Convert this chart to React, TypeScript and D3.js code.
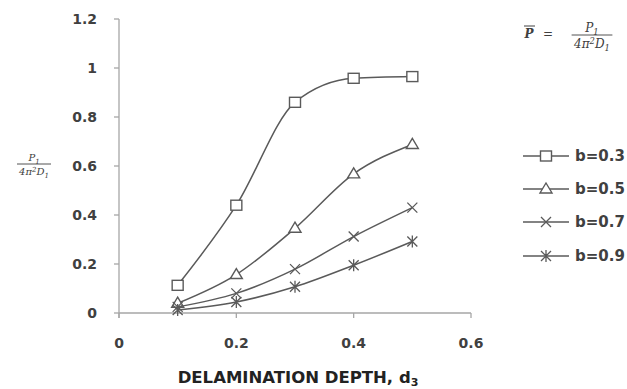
import * as d3 from "d3";

const WIDTH = 627;
const HEIGHT = 389;

const depths = [0.1, 0.2, 0.3, 0.4, 0.5];
const b03 = [0.113, 0.44, 0.86, 0.958, 0.965];
const b05 = [0.04, 0.157, 0.346, 0.568, 0.688];
const b07 = [0.025, 0.08, 0.179, 0.312, 0.43];
const b09 = [0.012, 0.045, 0.107, 0.195, 0.292];
const seriesNames = ["b=0.3", "b=0.5", "b=0.7", "b=0.9"];
const markerTypes = ["square", "triangle", "cross", "star"];
const xTicks = [0, 0.2, 0.4, 0.6];
const yTicks = [0, 0.2, 0.4, 0.6, 0.8, 1, 1.2];

const LINE = "#5a5a5a";
const AXIS = "#a6a6a6";
const TEXT = "#404040";
const FONT = "'DejaVu Sans', sans-serif";

function Marker({ type, x, y }: { type: string; x: number; y: number }) {
  const s = 5;
  if (type === "square")
    return <rect x={x - s - 0.5} y={y - s} width={2 * s + 1} height={2 * s} fill="#fff" stroke={LINE} strokeWidth={1.4} />;
  if (type === "triangle") {
    const p = [[x, y - s - 1], [x + s + 1, y + s - 1], [x - s - 1, y + s - 1]];
    return <polygon points={p.map((q) => q.join(",")).join(" ")} fill="#fff" stroke={LINE} strokeWidth={1.4} />;
  }
  const cross = `M${x - s},${y - s}L${x + s},${y + s}M${x - s},${y + s}L${x + s},${y - s}`;
  if (type === "cross") return <path d={cross} stroke={LINE} strokeWidth={1.3} fill="none" />;
  return <path d={cross + `M${x},${y - s - 1}L${x},${y + s + 1}`} stroke={LINE} strokeWidth={1.3} fill="none" />;
}

function Fraction({ x, y, size }: { x: number; y: number; size: number }) {
  // P1 / (4 pi^2 D1), centred at x, fraction bar at y
  const w = size * 3.4;
  return (
    <g fontFamily="'DejaVu Serif', serif" fontStyle="italic" fill={TEXT} textAnchor="middle">
      <text x={x} y={y - 3} fontSize={size}>
        P<tspan fontSize={size * 0.7} dy={size * 0.25}>1</tspan>
      </text>
      <line x1={x - w / 2} x2={x + w / 2} y1={y} y2={y} stroke={TEXT} strokeWidth={0.9} />
      <text x={x} y={y + size + 1} fontSize={size}>
        4π<tspan fontSize={size * 0.7} dy={-size * 0.35}>2</tspan>
        <tspan dy={size * 0.35}>D</tspan>
        <tspan fontSize={size * 0.7} dy={size * 0.25}>1</tspan>
      </text>
    </g>
  );
}

export default function App() {
  const x = d3.scaleLinear().domain([0, 0.6]).range([119, 471]);
  const y = d3.scaleLinear().domain([0, 1.2]).range([313, 19]);
  const series = [b03, b05, b07, b09];

  const line = d3
    .line<number>()
    .x((_, i) => x(depths[i]))
    .y((d) => y(d))
    .curve(d3.curveMonotoneX);

  const legendY = [156, 189, 222, 256];

  return (
    <svg width={WIDTH} height={HEIGHT} style={{ position: "absolute", left: 0, top: 0, background: "#fff" }}>
      {/* axes */}
      <line x1={x(0)} x2={x(0)} y1={y(1.2)} y2={y(0) + 5} stroke={AXIS} strokeWidth={1.3} />
      <line x1={x(0)} x2={x(0.6)} y1={y(0)} y2={y(0)} stroke={AXIS} strokeWidth={1.3} />
      {yTicks.map((t) => (
        <g key={"y" + t}>
          <line x1={x(0) - 5} x2={x(0)} y1={y(t)} y2={y(t)} stroke={AXIS} strokeWidth={1.3} />
          <text x={97} y={y(t)} dy="0.36em" textAnchor="end" fontFamily={FONT} fontWeight="bold" fontSize={14} fill={TEXT}>
            {d3.format("~g")(t)}
          </text>
        </g>
      ))}
      {xTicks.map((t) => (
        <g key={"x" + t}>
          <line x1={x(t)} x2={x(t)} y1={y(0)} y2={y(0) + 5} stroke={AXIS} strokeWidth={1.3} />
          <text x={x(t)} y={343} dy="0.36em" textAnchor="middle" fontFamily={FONT} fontWeight="bold" fontSize={14} fill={TEXT}>
            {d3.format("~g")(t)}
          </text>
        </g>
      ))}

      {/* series */}
      {series.map((s, k) => (
        <g key={seriesNames[k]}>
          <path d={line(s) || ""} fill="none" stroke={LINE} strokeWidth={1.5} />
          {s.map((v, i) => (
            <Marker key={i} type={markerTypes[k]} x={x(depths[i])} y={y(v)} />
          ))}
        </g>
      ))}

      {/* legend */}
      {seriesNames.map((n, k) => (
        <g key={"lg" + n}>
          <line x1={523} x2={569} y1={legendY[k]} y2={legendY[k]} stroke={LINE} strokeWidth={1.5} />
          <Marker type={markerTypes[k]} x={546} y={legendY[k]} />
          <text x={575} y={legendY[k]} dy="0.36em" fontFamily={FONT} fontWeight="bold" fontSize={15} fill={TEXT}>
            {n}
          </text>
        </g>
      ))}

      {/* y label */}
      <Fraction x={34} y={164} size={10} />

      {/* formula top right */}
      <text x={529} y={38} fontFamily="'DejaVu Serif', serif" fontStyle="italic" fontWeight="bold" fontSize={12} fill={TEXT} textAnchor="middle">
        P
      </text>
      <line x1={524} x2={535} y1={26} y2={26} stroke={TEXT} strokeWidth={1} />
      <text x={548} y={38} fontFamily="'DejaVu Serif', serif" fontSize={12} fill={TEXT} textAnchor="middle">
        =
      </text>
      <Fraction x={592} y={35} size={12} />

      {/* x label */}
      <text x={298} y={377} dy="0.36em" textAnchor="middle" fontFamily={FONT} fontWeight="bold" fontSize={16.5} fill="#222">
        DELAMINATION DEPTH, d<tspan fontSize={11} dy={3}>3</tspan>
      </text>
    </svg>
  );
}
